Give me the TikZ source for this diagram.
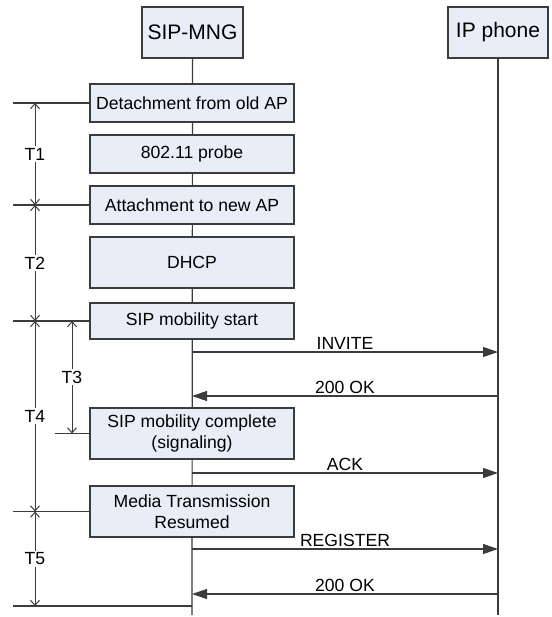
\documentclass[tikz,border=0pt]{standalone}
\usepackage{fontspec}
\setmainfont{Liberation Sans}
\usetikzlibrary{arrows.meta}
\definecolor{boxfill}{HTML}{E8EEF8}
\definecolor{linegray}{HTML}{3C3C3C}
\tikzset{
  base/.style={font=\fontsize{17.6}{21}\selectfont, text=black},
  proc/.style={base, draw=linegray, fill=boxfill, line width=1.2pt,
    minimum width=204pt, align=center, inner sep=0pt},
  head/.style={proc, font=\fontsize{21}{24}\selectfont,
    minimum width=101pt, minimum height=51pt},
  msg/.style={draw=linegray, line width=1.2pt, -{Triangle[length=15pt,width=10pt]}},
  life/.style={draw=linegray, line width=1.2pt},
  tick/.style={draw=linegray, line width=1.2pt},
  dim/.style={draw=linegray, line width=1pt,
    {Straight Barb[length=5pt,width=9pt]}-{Straight Barb[length=5pt,width=9pt]}},
  dimlabel/.style={base, fill=white, inner sep=2pt},
  msglabel/.style={base, above=1pt, inner sep=1pt}
}
\begin{document}
\begin{tikzpicture}[x=1pt,y=-1pt]
\useasboundingbox[fill=white] (0,0) rectangle (551,617);

% participants
\node[head] (mng) at (192.5,32.5) {SIP-MNG};
\node[head, minimum width=100pt] (ip) at (498,32.5) {IP phone};
\coordinate (mngend) at (192,615);
\coordinate (ipend) at (498,615);
\draw[life] (mng.south) -- (mngend);
\draw[life] (ip.south) -- (ipend);

% processing steps on the SIP-MNG side
\node[proc, minimum height=38pt] (det) at (192,103) {Detachment from old AP};
\node[proc, minimum height=38pt] (probe) at (192,154) {802.11 probe};
\node[proc, minimum height=38pt] (att) at (192,205) {Attachment to new AP};
\node[proc, minimum height=51pt] (dhcp) at (192,262.5) {DHCP};
\node[proc, minimum height=36pt] (start) at (192,321) {SIP mobility start};
\node[proc, minimum height=51pt] (compl) at (192,433.5) {SIP mobility complete\\(signaling)};
\node[proc, minimum height=51pt] (media) at (192,511.5) {Media Transmission\\Resumed};

% messages
\coordinate (m1a) at (192,352);   \coordinate (m1b) at (498,352);
\coordinate (m2a) at (192,396);   \coordinate (m2b) at (498,396);
\coordinate (m3a) at (192,473);   \coordinate (m3b) at (498,473);
\coordinate (m4a) at (192,549);   \coordinate (m4b) at (498,549);
\coordinate (m5a) at (192,594);   \coordinate (m5b) at (498,594);
\draw[msg] (m1a) -- node[msglabel] {INVITE} (m1b);
\draw[msg] (m2b) -- node[msglabel] {200 OK} (m2a);
\draw[msg] (m3a) -- node[msglabel] {ACK} (m3b);
\draw[msg] (m4a) -- node[msglabel] {REGISTER} (m4b);
\draw[msg] (m5b) -- node[msglabel] {200 OK} (m5a);

% timing reference lines
\coordinate (r1) at (13,103);
\coordinate (r2) at (13,205);
\coordinate (r3) at (13,321);
\coordinate (r4) at (55,433.5);
\coordinate (r5) at (13,511.5);
\coordinate (r6) at (13,606);
\coordinate (r6e) at (192,606);
\draw[tick] (r1) -- (det.west);
\draw[tick] (r2) -- (att.west);
\draw[tick] (r3) -- (start.west);
\draw[tick] (r4) -- (compl.west);
\draw[tick] (r5) -- (media.west);
\draw[tick] (r6) -- (r6e);

% interval markers
\coordinate (a1) at (35,103);
\coordinate (a2) at (35,205);
\coordinate (a3) at (35,321);
\coordinate (a5) at (35,511.5);
\coordinate (a6) at (35,606);
\coordinate (b1) at (72,321);
\coordinate (b2) at (72,433.5);
\draw[dim] (a1) -- node[dimlabel] {T1} (a2);
\draw[dim] (a2) -- node[dimlabel] {T2} (a3);
\draw[dim] (a3) -- node[dimlabel] {T4} (a5);
\draw[dim] (a5) -- node[dimlabel] {T5} (a6);
\draw[dim] (b1) -- node[dimlabel] {T3} (b2);
\end{tikzpicture}
\end{document}
